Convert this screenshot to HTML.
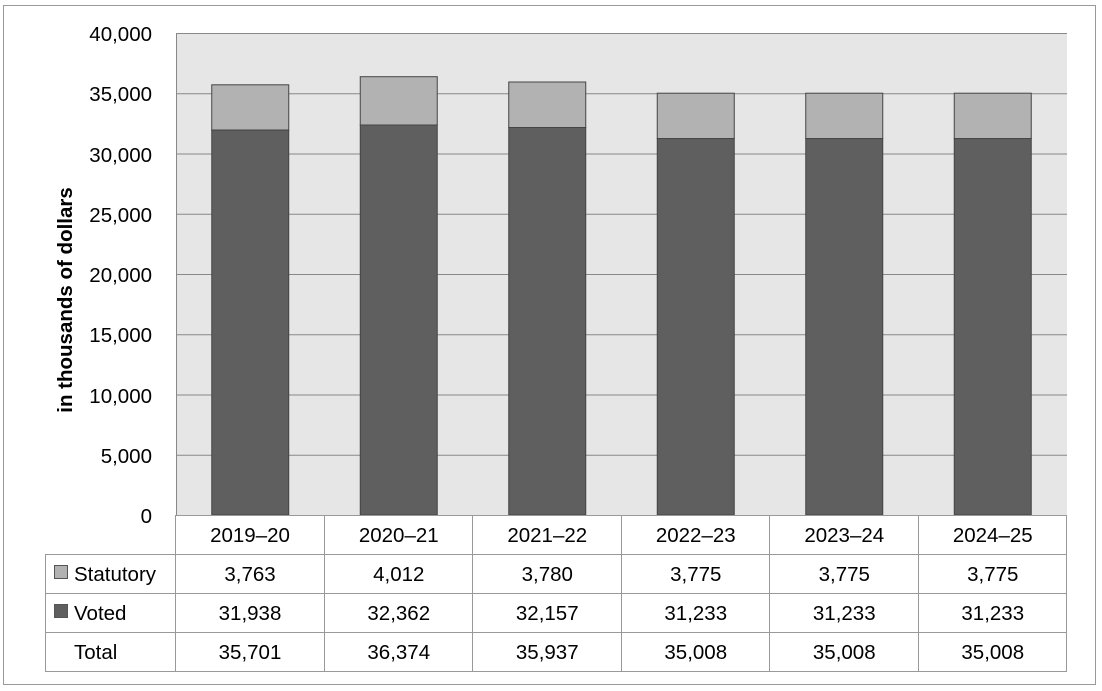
<!DOCTYPE html>
<html><head><style>body{margin:0;background:#fff}svg{display:block;font-family:"Liberation Sans",sans-serif}</style></head><body>
<svg width="1102" height="691" viewBox="0 0 1102 691">
<rect x="3.5" y="5.5" width="1092" height="679" fill="#fff" stroke="#999"/>
<rect x="176" y="33" width="891" height="482" fill="#e6e6e6"/>
<g stroke="#888" stroke-width="1">
<line x1="176" y1="33.5" x2="1067" y2="33.5"/><line x1="176" y1="93.75" x2="1067" y2="93.75"/><line x1="176" y1="154" x2="1067" y2="154"/><line x1="176" y1="214.25" x2="1067" y2="214.25"/><line x1="176" y1="274.5" x2="1067" y2="274.5"/><line x1="176" y1="334.75" x2="1067" y2="334.75"/><line x1="176" y1="395" x2="1067" y2="395"/><line x1="176" y1="455.25" x2="1067" y2="455.25"/>
<line x1="176.5" y1="33" x2="176.5" y2="515"/>
</g>
<g stroke="#444" stroke-width="1">
<rect x="211.75" y="84.8" width="77" height="45.3" fill="#b2b2b2"/><rect x="211.75" y="130.1" width="77" height="384.9" fill="#5f5f5f"/>
<rect x="360.25" y="76.7" width="77" height="48.3" fill="#b2b2b2"/><rect x="360.25" y="125" width="77" height="390" fill="#5f5f5f"/>
<rect x="508.75" y="82" width="77" height="45.5" fill="#b2b2b2"/><rect x="508.75" y="127.5" width="77" height="387.5" fill="#5f5f5f"/>
<rect x="657.25" y="93.2" width="77" height="45.4" fill="#b2b2b2"/><rect x="657.25" y="138.6" width="77" height="376.4" fill="#5f5f5f"/>
<rect x="805.75" y="93.2" width="77" height="45.4" fill="#b2b2b2"/><rect x="805.75" y="138.6" width="77" height="376.4" fill="#5f5f5f"/>
<rect x="954.25" y="93.2" width="77" height="45.4" fill="#b2b2b2"/><rect x="954.25" y="138.6" width="77" height="376.4" fill="#5f5f5f"/>
</g>
<g font-size="20.5" fill="#000" text-anchor="end">
<text x="152" y="41">40,000</text><text x="152" y="101">35,000</text><text x="152" y="162">30,000</text><text x="152" y="222">25,000</text><text x="152" y="282">20,000</text><text x="152" y="342">15,000</text><text x="152" y="403">10,000</text><text x="152" y="463">5,000</text><text x="152" y="523">0</text>
</g>
<text transform="translate(72,300) rotate(-90)" font-size="20.5" font-weight="bold" text-anchor="middle">in thousands of dollars</text>
<g stroke="#999" stroke-width="1" fill="none">
<line x1="176" y1="515.5" x2="1067" y2="515.5"/>
<line x1="45" y1="554.5" x2="1067" y2="554.5"/><line x1="45" y1="593.5" x2="1067" y2="593.5"/><line x1="45" y1="632.5" x2="1067" y2="632.5"/><line x1="45" y1="671.5" x2="1067" y2="671.5"/>
<line x1="45.5" y1="554" x2="45.5" y2="671"/>
<line x1="175.5" y1="515" x2="175.5" y2="671"/><line x1="324.5" y1="515" x2="324.5" y2="671"/><line x1="472.5" y1="515" x2="472.5" y2="671"/><line x1="621.5" y1="515" x2="621.5" y2="671"/><line x1="769.5" y1="515" x2="769.5" y2="671"/><line x1="918.5" y1="515" x2="918.5" y2="671"/><line x1="1066.5" y1="515" x2="1066.5" y2="671"/>
</g>
<rect x="54.5" y="565.5" width="13" height="13" fill="#b2b2b2" stroke="#555"/>
<rect x="54.5" y="604.5" width="13" height="13" fill="#5f5f5f" stroke="#555"/>
<g font-size="20.5" fill="#000">
<text x="74" y="581">Statutory</text><text x="74" y="620">Voted</text><text x="74" y="659">Total</text>
</g>
<g font-size="20.5" fill="#000" text-anchor="middle">
<text x="250" y="542">2019–20</text><text x="398.75" y="542">2020–21</text><text x="547.25" y="542">2021–22</text><text x="695.75" y="542">2022–23</text><text x="844.25" y="542">2023–24</text><text x="992.75" y="542">2024–25</text>
<text x="250" y="581">3,763</text><text x="398.75" y="581">4,012</text><text x="547.25" y="581">3,780</text><text x="695.75" y="581">3,775</text><text x="844.25" y="581">3,775</text><text x="992.75" y="581">3,775</text>
<text x="250" y="620">31,938</text><text x="398.75" y="620">32,362</text><text x="547.25" y="620">32,157</text><text x="695.75" y="620">31,233</text><text x="844.25" y="620">31,233</text><text x="992.75" y="620">31,233</text>
<text x="250" y="659">35,701</text><text x="398.75" y="659">36,374</text><text x="547.25" y="659">35,937</text><text x="695.75" y="659">35,008</text><text x="844.25" y="659">35,008</text><text x="992.75" y="659">35,008</text>
</g>
</svg>
</body></html>
